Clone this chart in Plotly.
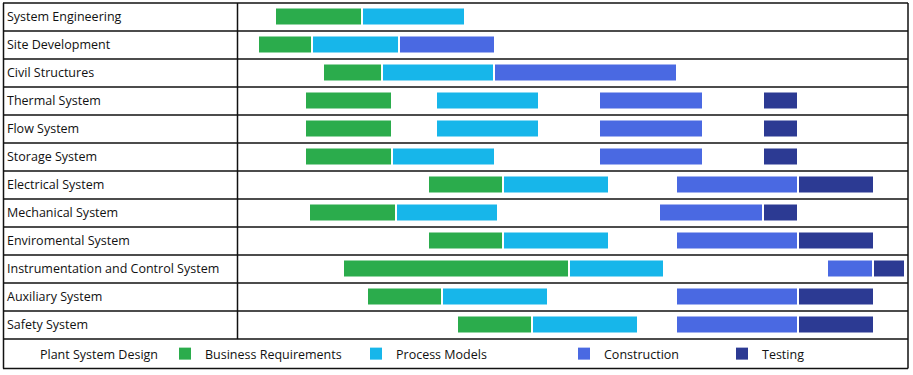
import plotly.graph_objects as go

# ---------------- data ----------------
systems = [
    "System Engineering", "Site Development", "Civil Structures", "Thermal System",
    "Flow System", "Storage System", "Electrical System", "Mechanical System",
    "Enviromental System", "Instrumentation and Control System", "Auxiliary System",
    "Safety System",
]
# timeline units (start, end) per phase; None = phase not present
business_start = [38, 21, 86, 68, 68, 68, 191, 72, 191, 106, 130, 220]
business_end   = [123, 73, 143, 153, 153, 153, 264, 157, 264, 330, 203, 293]
process_start  = [125, 75, 145, 199, 199, 155, 266, 159, 266, 332, 205, 295]
process_end    = [226, 160, 255, 300, 300, 256, 370, 259, 370, 425, 309, 399]
construction_start = [None, 162, 257, 362, 362, 362, 439, 422, 439, 590, 439, 439]
construction_end   = [None, 256, 438, 464, 464, 464, 559, 524, 559, 634, 559, 559]
testing_start = [None, None, None, 526, 526, 526, 561, 526, 561, 636, 561, 561]
testing_end   = [None, None, None, 559, 559, 559, 635, 559, 635, 666, 635, 635]

legend_title = "Plant System Design"
phases = ["Business Requirements", "Process Models", "Construction", "Testing"]
colors = ["#2bac4c", "#17b6ea", "#4a69e2", "#2c3a93"]

# ---------------- figure ----------------
W, H = 913, 375
fig = go.Figure()

series = [
    (business_start, business_end),
    (process_start, process_end),
    (construction_start, construction_end),
    (testing_start, testing_end),
]
legend_ids = ["legend", "legend2", "legend3", "legend4"]
for k, ((s, e), name, col) in enumerate(zip(series, phases, colors)):
    ys, bases, lens = [], [], []
    for i, (a, b) in enumerate(zip(s, e)):
        if a is None:
            continue
        ys.append(systems[i]); bases.append(a); lens.append(b - a)
    fig.add_trace(go.Bar(
        y=ys, x=lens, base=bases, orientation="h", name=name,
        marker=dict(color=col, line=dict(width=0)), width=0.571,
        legend=legend_ids[k], hoverinfo="skip",
    ))

def px_x(p):
    return p / W

def px_y(p):
    return 1 - p / H

shapes = []
line = dict(color="#111111", width=1.5)
row_h = 28
top = 3
rows_y = [top + row_h * i for i in range(len(systems) + 1)]
for yy in rows_y:
    shapes.append(dict(type="line", xref="paper", yref="paper",
                       x0=px_x(3), x1=px_x(908), y0=px_y(yy), y1=px_y(yy), line=line))
shapes.append(dict(type="line", xref="paper", yref="paper",
                   x0=px_x(3), x1=px_x(908), y0=px_y(368.5), y1=px_y(368.5), line=line))
shapes.append(dict(type="line", xref="paper", yref="paper",
                   x0=px_x(3.5), x1=px_x(3.5), y0=px_y(3), y1=px_y(368.5), line=line))
shapes.append(dict(type="line", xref="paper", yref="paper",
                   x0=px_x(908), x1=px_x(908), y0=px_y(3), y1=px_y(368.5), line=line))
shapes.append(dict(type="line", xref="paper", yref="paper",
                   x0=px_x(237.5), x1=px_x(237.5), y0=px_y(3), y1=px_y(rows_y[-1]), line=line))

font_family = "Open Sans, DejaVu Sans, sans-serif"
annotations = []
for s in systems:
    annotations.append(dict(text=s, xref="paper", yref="y", x=px_x(5), y=s,
                            xanchor="left", yanchor="middle", showarrow=False,
                            font=dict(size=12.5, color="#111111", family=font_family)))
annotations.append(dict(text=legend_title, xref="paper", yref="paper", x=px_x(38), y=px_y(354),
                        xanchor="left", yanchor="middle", showarrow=False,
                        font=dict(size=12.5, color="#111111", family=font_family)))

legend_x = [178, 369, 577, 735]
layout_legends = {}
for lid, lx in zip(legend_ids, legend_x):
    layout_legends[lid] = dict(
        x=px_x(lx - 13), y=px_y(354), xanchor="left", yanchor="middle",
        orientation="h", bgcolor="rgba(0,0,0,0)", borderwidth=0,
        font=dict(size=12.5, color="#111111", family=font_family),
        itemclick=False, itemdoubleclick=False,
    )

fig.update_layout(
    width=W, height=H,
    margin=dict(l=0, r=0, t=0, b=0),
    paper_bgcolor="white", plot_bgcolor="white",
    barmode="overlay",
    showlegend=True,
    xaxis=dict(range=[-238, 675], visible=False, fixedrange=True),
    yaxis=dict(categoryorder="array", categoryarray=systems,
               range=[12.804, -0.589], visible=False, fixedrange=True),
    shapes=shapes, annotations=annotations,
    **layout_legends,
)

fig.write_html("out.html",
               config={"displayModeBar": False},
               post_script="document.body.style.margin='0';document.body.style.padding='0';")
